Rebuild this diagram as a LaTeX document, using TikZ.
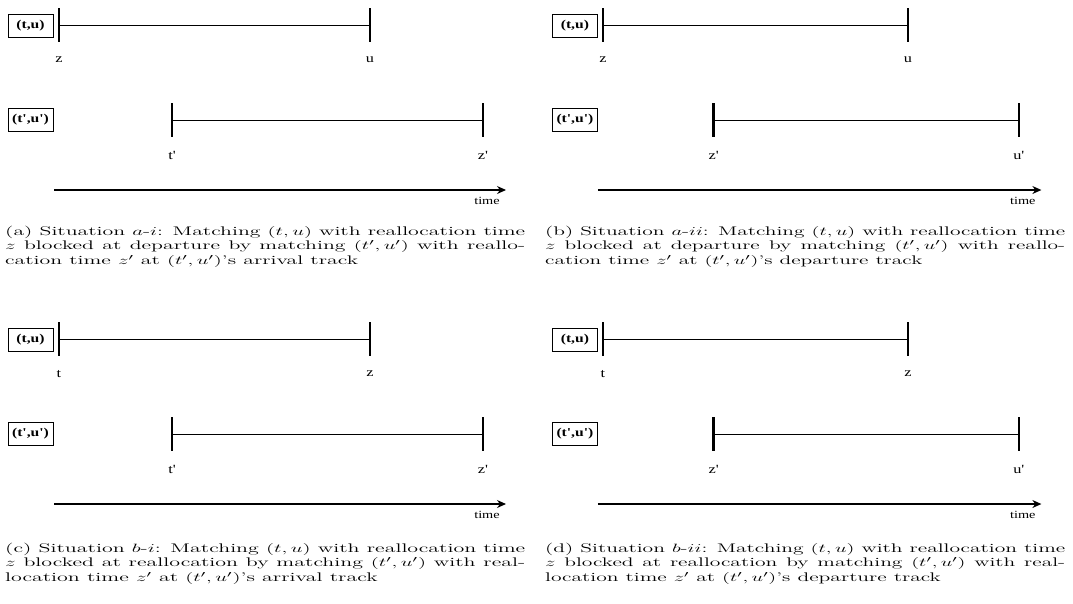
\documentclass[tikz,border=0pt]{standalone}
\usepackage{fontspec}
\usepackage{graphicx}
\usetikzlibrary{arrows.meta}
\newfontfamily\diagfont{Liberation Serif}
\newcommand{\q}{\textquotesingle}
\newcommand{\wide}[1]{\scalebox{1.3}[1]{#1}}
\newlength{\capw}
% three caption lines, stretched to the column width
\newcommand{\capblock}[3]{\settowidth{\capw}{#1}%
\resizebox{520pt}{\height}{\begin{tabular}{@{}l@{}}
\makebox[\capw][s]{#1}\\ \makebox[\capw][s]{#2}\\ #3
\end{tabular}}}

% one situation: two matchings and the time axis
% #1 prefix, #2/#3 shift, #4 xscale, #5-#8 labels under the ticks
\newcommand{\timepanel}[8]{%
\begin{scope}[shift={(#2,#3)}, xscale=#4]
\node[pairbox] (#1p) at (30.5,25.5) {\wide{(t,u)}};
\node[pairbox] (#1q) at (30.5,120) {\wide{(t\q,u\q)}};
\coordinate (#1ps) at (59,25); \coordinate (#1pe) at (370,25);
\coordinate (#1qs) at (172,120); \coordinate (#1qe) at (483,120);
\coordinate (#1ts) at (54,190); \coordinate (#1te) at (506,190);
\draw[span] (#1ps) -- (#1pe);
\draw[span] (#1qs) -- (#1qe);
\foreach \c in {ps,pe,qs,qe}
  \draw[tick] ([yshift=17pt]#1\c) -- ([yshift=-17pt]#1\c);
\node[ticklabel] (#1lps) at ([yshift=-35pt]#1ps) {\wide{#5}};
\node[ticklabel] (#1lpe) at ([yshift=-35pt]#1pe) {\wide{#6}};
\node[ticklabel] (#1lqs) at ([yshift=-35pt]#1qs) {\wide{#7}};
\node[ticklabel] (#1lqe) at ([yshift=-35pt]#1qe) {\wide{#8}};
\draw[timeline] (#1ts) -- (#1te);
\node[ticklabel, font=\diagfont\fontsize{11}{13}\selectfont] (#1time) at (487,201) {\wide{time}};
\end{scope}}

\begin{document}
\begin{tikzpicture}[x=1pt, y=-1pt,
  pairbox/.style={draw, line width=0.8pt, minimum width=45pt, minimum height=23pt, inner sep=0pt, font=\diagfont\bfseries\fontsize{12}{14}\selectfont},
  ticklabel/.style={inner sep=0pt, font=\diagfont\fontsize{12.5}{14}\selectfont},
  span/.style={line width=0.9pt},
  tick/.style={line width=2.6pt},
  timeline/.style={line width=1.2pt, -{Stealth[length=9pt, width=8pt]}},
  caption/.style={anchor=north west, inner sep=0pt, font=\fontsize{12.5}{14.5}\selectfont}]
\useasboundingbox (0,0) rectangle (1073,603);

\timepanel{a}{0}{0}{1}{z}{u}{t\q}{z\q}
\timepanel{b}{545}{0}{0.981}{z}{u}{z\q}{u\q}
\timepanel{c}{0}{314}{1}{t}{z}{t\q}{z\q}
\timepanel{d}{545}{314}{0.981}{t}{z}{z\q}{u\q}

\node[caption] (capa) at (5,225) {\capblock
  {(a) Situation $a$-$i$: Matching $(t,u)$ with reallocation time}
  {$z$ blocked at departure by matching $(t',u')$ with reallo-}
  {cation time $z'$ at $(t',u')$'s arrival track}};
\node[caption] (capb) at (545,225) {\capblock
  {(b) Situation $a$-$ii$: Matching $(t,u)$ with reallocation time}
  {$z$ blocked at departure by matching $(t',u')$ with reallo-}
  {cation time $z'$ at $(t',u')$'s departure track}};
\node[caption] (capc) at (5,542) {\capblock
  {(c) Situation $b$-$i$: Matching $(t,u)$ with reallocation time}
  {$z$ blocked at reallocation by matching $(t',u')$ with real-}
  {location time $z'$ at $(t',u')$'s arrival track}};
\node[caption] (capd) at (545,542) {\capblock
  {(d) Situation $b$-$ii$: Matching $(t,u)$ with reallocation time}
  {$z$ blocked at reallocation by matching $(t',u')$ with real-}
  {location time $z'$ at $(t',u')$'s departure track}};
\end{tikzpicture}
\end{document}
